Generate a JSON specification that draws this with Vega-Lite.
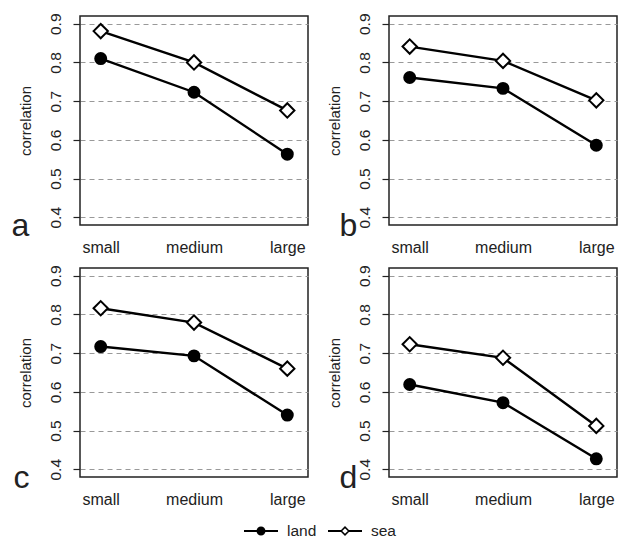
{
  "$schema": "https://vega.github.io/schema/vega-lite/v6.json",
  "padding": {"left": 10, "top": 12, "right": 5, "bottom": 5},
  "background": "white",
  "datasets": {
    "corr": [
      {"panel": "a", "size": "small", "series": "land", "value": 0.810},
      {"panel": "a", "size": "medium", "series": "land", "value": 0.723},
      {"panel": "a", "size": "large", "series": "land", "value": 0.563},
      {"panel": "a", "size": "small", "series": "sea", "value": 0.881},
      {"panel": "a", "size": "medium", "series": "sea", "value": 0.800},
      {"panel": "a", "size": "large", "series": "sea", "value": 0.676},
      {"panel": "b", "size": "small", "series": "land", "value": 0.761},
      {"panel": "b", "size": "medium", "series": "land", "value": 0.733},
      {"panel": "b", "size": "large", "series": "land", "value": 0.586},
      {"panel": "b", "size": "small", "series": "sea", "value": 0.841},
      {"panel": "b", "size": "medium", "series": "sea", "value": 0.804},
      {"panel": "b", "size": "large", "series": "sea", "value": 0.702},
      {"panel": "c", "size": "small", "series": "land", "value": 0.717},
      {"panel": "c", "size": "medium", "series": "land", "value": 0.693},
      {"panel": "c", "size": "large", "series": "land", "value": 0.540},
      {"panel": "c", "size": "small", "series": "sea", "value": 0.816},
      {"panel": "c", "size": "medium", "series": "sea", "value": 0.779},
      {"panel": "c", "size": "large", "series": "sea", "value": 0.660},
      {"panel": "d", "size": "small", "series": "land", "value": 0.619},
      {"panel": "d", "size": "medium", "series": "land", "value": 0.572},
      {"panel": "d", "size": "large", "series": "land", "value": 0.427},
      {"panel": "d", "size": "small", "series": "sea", "value": 0.723},
      {"panel": "d", "size": "medium", "series": "sea", "value": 0.688},
      {"panel": "d", "size": "large", "series": "sea", "value": 0.512}
    ],
    "legendItems": [
      {"series": "land"},
      {"series": "sea"}
    ]
  },
  "config": {
    "font": "Liberation Sans",
    "view": {"stroke": "#222", "strokeWidth": 1.5},
    "axisX": {
      "ticks": false, "domain": false, "grid": false,
      "labelFontSize": 16, "labelColor": "#222", "labelPadding": 14, "labelAngle": 0,
      "titleFontSize": 32, "titleFontWeight": "normal", "titleColor": "#222",
      "titleAlign": "left", "titleBaseline": "alphabetic", "titleAngle": 0, "titleY": 10
    },
    "axisY": {
      "values": [0.4, 0.5, 0.6, 0.7, 0.8, 0.9], "format": ".1f",
      "domain": false, "grid": true, "gridDash": [5, 4], "gridColor": "#999", "gridWidth": 1.2,
      "ticks": true, "tickSize": 7, "tickColor": "#222", "tickWidth": 1.2,
      "labelAngle": -90, "labelAlign": "center", "labelBaseline": "alphabetic",
      "labelFontSize": 15.5, "labelColor": "#222", "labelPadding": 13,
      "titleFontSize": 15, "titleFontWeight": "normal", "titleColor": "#222",
      "titleX": -50, "titleBaseline": "alphabetic"
    }
  },
  "spacing": 13,
  "bounds": "full",
  "resolve": {"scale": {"size": "independent"}},
  "vconcat": [
    {
      "columns": 2,
      "spacing": {"row": 43, "column": 81},
      "bounds": "flush",
      "concat": [
        {
          "width": 228, "height": 209,
          "data": {"name": "corr"},
          "transform": [{"filter": "datum.panel === 'a'"}],
          "encoding": {
            "x": {"field": "size", "type": "ordinal", "sort": ["small", "medium", "large"], "scale": {"type": "point", "padding": 0.222}, "axis": {"title": "a", "titleX": -69}},
            "y": {"field": "value", "type": "quantitative", "scale": {"domain": [0.38, 0.92], "nice": false, "zero": false}, "axis": {"title": "correlation"}}
          },
          "layer": [
            {"mark": {"type": "line", "color": "black", "strokeWidth": 2.4}, "encoding": {"detail": {"field": "series"}}},
            {"mark": {"type": "point", "filled": true, "stroke": "black", "strokeWidth": 2, "opacity": 1},
             "encoding": {
               "fill": {"field": "series", "type": "nominal", "scale": {"domain": ["land", "sea"], "range": ["black", "white"]}, "legend": null},
               "shape": {"field": "series", "type": "nominal", "scale": {"domain": ["land", "sea"], "range": ["circle", "diamond"]}, "legend": null},
               "size": {"field": "series", "type": "ordinal", "scale": {"domain": ["land", "sea"], "range": [120, 205]}, "legend": null}
             }}
          ]
        },
        {
          "width": 228, "height": 209,
          "data": {"name": "corr"},
          "transform": [{"filter": "datum.panel === 'b'"}],
          "encoding": {
            "x": {"field": "size", "type": "ordinal", "sort": ["small", "medium", "large"], "scale": {"type": "point", "padding": 0.222}, "axis": {"title": "b", "titleX": -50}},
            "y": {"field": "value", "type": "quantitative", "scale": {"domain": [0.38, 0.92], "nice": false, "zero": false}, "axis": {"title": "correlation"}}
          },
          "layer": [
            {"mark": {"type": "line", "color": "black", "strokeWidth": 2.4}, "encoding": {"detail": {"field": "series"}}},
            {"mark": {"type": "point", "filled": true, "stroke": "black", "strokeWidth": 2, "opacity": 1},
             "encoding": {
               "fill": {"field": "series", "type": "nominal", "scale": {"domain": ["land", "sea"], "range": ["black", "white"]}, "legend": null},
               "shape": {"field": "series", "type": "nominal", "scale": {"domain": ["land", "sea"], "range": ["circle", "diamond"]}, "legend": null},
               "size": {"field": "series", "type": "ordinal", "scale": {"domain": ["land", "sea"], "range": [120, 205]}, "legend": null}
             }}
          ]
        },
        {
          "width": 228, "height": 209,
          "data": {"name": "corr"},
          "transform": [{"filter": "datum.panel === 'c'"}],
          "encoding": {
            "x": {"field": "size", "type": "ordinal", "sort": ["small", "medium", "large"], "scale": {"type": "point", "padding": 0.222}, "axis": {"title": "c", "titleX": -67}},
            "y": {"field": "value", "type": "quantitative", "scale": {"domain": [0.38, 0.92], "nice": false, "zero": false}, "axis": {"title": "correlation"}}
          },
          "layer": [
            {"mark": {"type": "line", "color": "black", "strokeWidth": 2.4}, "encoding": {"detail": {"field": "series"}}},
            {"mark": {"type": "point", "filled": true, "stroke": "black", "strokeWidth": 2, "opacity": 1},
             "encoding": {
               "fill": {"field": "series", "type": "nominal", "scale": {"domain": ["land", "sea"], "range": ["black", "white"]}, "legend": null},
               "shape": {"field": "series", "type": "nominal", "scale": {"domain": ["land", "sea"], "range": ["circle", "diamond"]}, "legend": null},
               "size": {"field": "series", "type": "ordinal", "scale": {"domain": ["land", "sea"], "range": [120, 205]}, "legend": null}
             }}
          ]
        },
        {
          "width": 228, "height": 209,
          "data": {"name": "corr"},
          "transform": [{"filter": "datum.panel === 'd'"}],
          "encoding": {
            "x": {"field": "size", "type": "ordinal", "sort": ["small", "medium", "large"], "scale": {"type": "point", "padding": 0.222}, "axis": {"title": "d", "titleX": -50}},
            "y": {"field": "value", "type": "quantitative", "scale": {"domain": [0.38, 0.92], "nice": false, "zero": false}, "axis": {"title": "correlation"}}
          },
          "layer": [
            {"mark": {"type": "line", "color": "black", "strokeWidth": 2.4}, "encoding": {"detail": {"field": "series"}}},
            {"mark": {"type": "point", "filled": true, "stroke": "black", "strokeWidth": 2, "opacity": 1},
             "encoding": {
               "fill": {"field": "series", "type": "nominal", "scale": {"domain": ["land", "sea"], "range": ["black", "white"]}, "legend": null},
               "shape": {"field": "series", "type": "nominal", "scale": {"domain": ["land", "sea"], "range": ["circle", "diamond"]}, "legend": null},
               "size": {"field": "series", "type": "ordinal", "scale": {"domain": ["land", "sea"], "range": [120, 205]}, "legend": null}
             }}
          ]
        }
      ]
    },
    {
      "width": 537, "height": 20,
      "view": {"stroke": null},
      "data": {"name": "legendItems"},
      "encoding": {
        "x": {"field": "series", "type": "nominal", "scale": {"type": "point", "domain": ["land", "sea"], "range": [181, 265], "padding": 0}, "axis": null}
      },
      "layer": [
        {"mark": {"type": "tick", "orient": "horizontal", "size": 34, "thickness": 2, "color": "black", "opacity": 1}},
        {"mark": {"type": "point", "filled": true, "stroke": "black", "strokeWidth": 1.5, "opacity": 1},
         "encoding": {
           "fill": {"field": "series", "type": "nominal", "scale": {"domain": ["land", "sea"], "range": ["black", "white"]}, "legend": null},
           "shape": {"field": "series", "type": "nominal", "scale": {"domain": ["land", "sea"], "range": ["circle", "diamond"]}, "legend": null},
           "size": {"field": "series", "type": "ordinal", "scale": {"domain": ["land", "sea"], "range": [55, 60]}, "legend": null}
         }},
        {"mark": {"type": "text", "align": "left", "baseline": "middle", "dx": 26, "fontSize": 15.5, "color": "#222"},
         "encoding": {"text": {"field": "series"}}}
      ]
    }
  ]
}
